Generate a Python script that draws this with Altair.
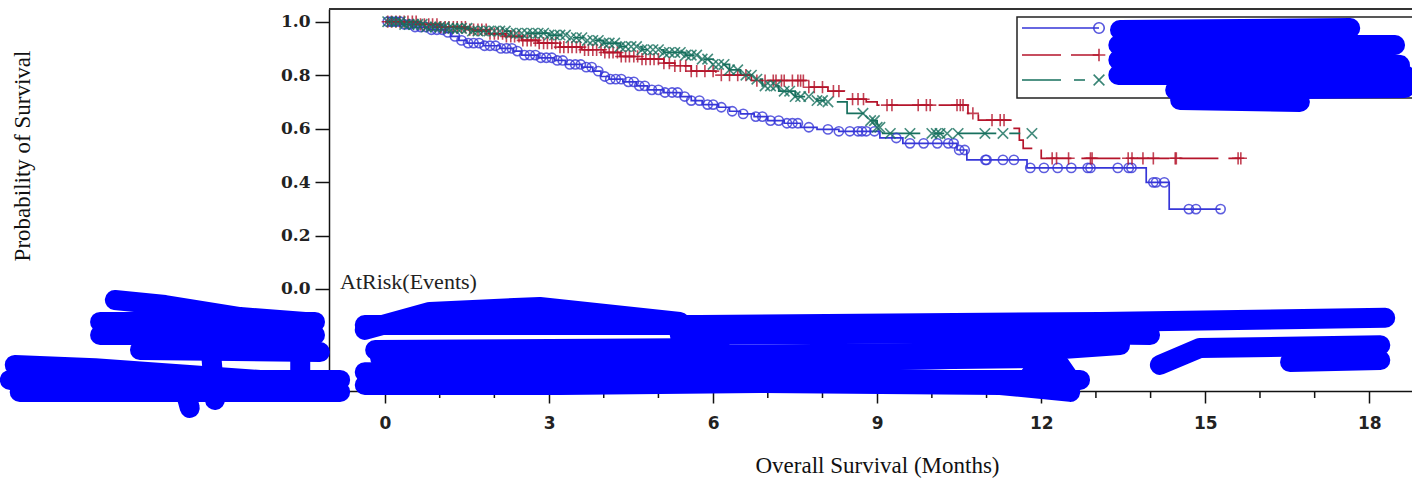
import altair as alt
import pandas as pd

# ---------------- data ----------------
GROUPS = ["Arm 1", "Arm 2", "Arm 3"]          # legend labels are hidden in the original
COLORS = ["#3636d8", "#b5142b", "#17705e"]

# Kaplan-Meier step points (time in months, survival after the step)
BLUE_T = [0, 0.3, 0.5, 0.8, 1.1, 1.2, 1.35, 1.5, 1.8, 2.1, 2.35, 2.5, 2.8, 3.1, 3.3,
          3.6, 3.8, 3.95, 4.1, 4.35, 4.6, 4.8, 5.1, 5.4, 5.6, 5.8, 6.1, 6.3, 6.5, 6.75,
          7.0, 7.3, 7.6, 7.9, 8.3, 9.05, 9.47, 10.46, 10.64, 11.74, 13.92, 14.34]
BLUE_S = [1.0, 0.99, 0.98, 0.97, 0.96, 0.945, 0.93, 0.92, 0.91, 0.9, 0.89, 0.875, 0.865, 0.855, 0.84,
          0.83, 0.815, 0.795, 0.785, 0.775, 0.76, 0.745, 0.735, 0.72, 0.705, 0.69, 0.68, 0.665, 0.655, 0.645,
          0.63, 0.62, 0.605, 0.597, 0.59, 0.565, 0.545, 0.52, 0.483, 0.453, 0.399, 0.299]
BLUE_END = 15.28
BLUE_CENSOR = [0.05, 0.12, 0.2, 0.28, 0.36, 0.45, 0.55, 0.65, 0.75, 0.85, 0.95, 1.05, 1.15, 1.28, 1.4,
               1.52, 1.62, 1.72, 1.82, 1.92, 2.02, 2.12, 2.22, 2.32, 2.42, 2.55, 2.65, 2.75, 2.85, 2.95,
               3.05, 3.15, 3.25, 3.38, 3.48, 3.58, 3.68, 3.78, 3.9, 4.02, 4.12, 4.22, 4.32, 4.45, 4.55,
               4.65, 4.75, 4.88, 5.0, 5.12, 5.25, 5.35, 5.48, 5.6, 5.75, 5.9, 6.0, 6.15, 6.35, 6.55,
               6.78, 6.9, 7.05, 7.2, 7.35, 7.45, 7.55, 7.75, 8.1, 8.3, 8.5, 8.65, 8.72, 8.8, 8.95,
               9.35, 9.6, 9.85, 10.1, 10.3, 10.4, 10.5, 10.6, 10.98, 11.0, 11.3, 11.5, 11.8, 12.05, 12.3,
               12.55, 12.85, 12.9, 13.4, 13.6, 13.65, 14.05, 14.1, 14.25, 14.7, 14.83, 15.28]

RED_T = [0, 0.6, 1.0, 1.5, 1.9, 2.2, 2.5, 2.8, 3.2, 3.6, 4.0, 4.3, 4.7, 5.1, 5.3, 5.6, 6.05, 6.7,
         7.7, 8.1, 8.4, 8.8, 9.0, 10.66, 10.85, 11.47, 11.6, 11.67, 12.0]
RED_S = [1.0, 0.99, 0.98, 0.97, 0.955, 0.945, 0.93, 0.92, 0.905, 0.895, 0.885, 0.87, 0.86, 0.845, 0.835,
         0.815, 0.80, 0.78, 0.755, 0.74, 0.71, 0.70, 0.688, 0.657, 0.632, 0.601, 0.557, 0.526, 0.489]
RED_END = 15.65
RED_CENSOR = [0.05, 0.12, 0.2, 0.27, 0.35, 0.42, 0.5, 0.57, 0.65, 0.72, 0.8, 0.87, 0.95, 1.02, 1.1,
              1.17, 1.25, 1.32, 1.4, 1.47, 1.55, 1.62, 1.7, 1.77, 1.85, 1.92, 2.0, 2.07, 2.15, 2.22,
              2.3, 2.37, 2.45, 2.52, 2.6, 2.67, 2.75, 2.82, 2.9, 2.97, 3.05, 3.12, 3.2, 3.27, 3.35,
              3.42, 3.5, 3.57, 3.65, 3.72, 3.8, 3.87, 3.95, 4.02, 4.1, 4.17, 4.25, 4.32, 4.4, 4.47,
              4.55, 4.62, 4.7, 4.77, 4.85, 4.92, 5.0, 5.1, 5.2, 5.3, 5.4, 5.5, 5.6, 5.7, 5.85,
              6.0, 6.15, 6.3, 6.45, 6.6, 6.8, 6.95, 7.1, 7.15, 7.25, 7.3, 7.45, 7.55, 7.6, 7.65,
              7.75, 7.85, 8.0, 8.2, 8.3, 8.55, 8.65, 8.75, 9.18, 9.27, 9.75, 9.9, 9.97, 10.46, 10.52,
              10.57, 10.75, 11.1, 11.25, 11.32, 12.2, 12.28, 12.5, 12.9, 12.93, 13.59, 13.66, 13.86,
              14.05, 14.45, 14.47, 15.6, 15.65]

GREEN_T = [0, 0.3, 0.7, 1.1, 1.6, 2.3, 3.0, 3.4, 3.7, 4.0, 4.3, 4.7, 5.1, 5.5, 5.8, 6.0, 6.3, 6.5,
           6.75, 6.9, 7.2, 7.5, 7.9, 8.1, 8.45, 8.85, 9.0, 9.1]
GREEN_S = [1.0, 0.99, 0.98, 0.975, 0.965, 0.957, 0.95, 0.94, 0.93, 0.92, 0.907, 0.895, 0.885, 0.875,
           0.86, 0.84, 0.82, 0.80, 0.785, 0.76, 0.74, 0.72, 0.705, 0.70, 0.657, 0.63, 0.605, 0.582]
GREEN_END = 11.83
GREEN_CENSOR = [0.05, 0.12, 0.2, 0.28, 0.36, 0.44, 0.52, 0.6, 0.68, 0.76, 0.84, 0.92, 1.0, 1.08, 1.16,
                1.24, 1.32, 1.4, 1.5, 1.6, 1.7, 1.8, 1.9, 2.0, 2.1, 2.2, 2.3, 2.4, 2.5, 2.6,
                2.7, 2.8, 2.9, 3.0, 3.1, 3.2, 3.3, 3.4, 3.5, 3.6, 3.7, 3.8, 3.9, 4.0, 4.1,
                4.2, 4.3, 4.4, 4.5, 4.6, 4.7, 4.8, 4.9, 5.0, 5.1, 5.2, 5.3, 5.4, 5.5, 5.6,
                5.7, 5.8, 5.9, 6.0, 6.1, 6.2, 6.3, 6.45, 6.6, 6.7, 6.8, 6.95, 7.05, 7.15, 7.3,
                7.4, 7.5, 7.6, 7.75, 7.9, 8.0, 8.1, 8.74, 8.88, 8.95, 9.0, 9.05, 9.24, 9.6, 10.0,
                10.08, 10.15, 10.28, 10.48, 10.97, 11.3, 11.83]

X_MAJOR = [0, 3, 6, 9, 12, 15, 18]
X_MINOR = [1, 2, 4, 5, 7, 8, 10, 11, 13, 14, 16, 17]
Y_TICKS = [0.0, 0.2, 0.4, 0.6, 0.8, 1.0]

# redaction scribbles of the original (months, probability) per stroke
SCRIBBLES = [
    [(13.44, 0.969), (17.65, 0.976)],
    [(13.41, 0.913), (18.47, 0.913)],
    [(13.41, 0.857), (17.28, 0.864), (18.56, 0.838)],
    [(13.41, 0.801), (18.65, 0.801)],
    [(14.45, 0.744), (18.65, 0.752)],
    [(14.54, 0.707), (16.73, 0.70)],
    [(-0.37, -0.135), (5.76, -0.135), (13.08, -0.123), (18.29, -0.108)],
    [(-0.37, -0.153), (0.82, -0.086), (2.83, -0.067), (5.39, -0.123)],
    [(5.39, -0.172), (11.25, -0.165), (13.99, -0.172)],
    [(-0.18, -0.228), (6.13, -0.221)],
    [(-0.09, -0.258), (5.76, -0.247), (11.61, -0.236), (13.44, -0.210)],
    [(5.76, -0.273), (12.16, -0.258)],
    [(14.17, -0.284), (14.90, -0.221), (18.20, -0.210)],
    [(16.55, -0.273), (18.20, -0.266)],
    [(-0.37, -0.311), (5.76, -0.322), (10.33, -0.340), (12.71, -0.340)],
    [(-0.37, -0.359), (3.20, -0.359), (6.86, -0.352), (11.25, -0.359), (12.53, -0.385)],
    [(11.80, -0.322), (12.34, -0.284), (12.53, -0.340)],
    [(-4.94, -0.041), (-4.02, -0.060), (-2.65, -0.105), (-1.46, -0.123)],
    [(-5.21, -0.123), (-1.28, -0.123)],
    [(-5.21, -0.172), (-1.28, -0.172)],
    [(-4.48, -0.228), (-1.19, -0.236)],
    [(-6.77, -0.284), (-5.30, -0.296), (-1.01, -0.359)],
    [(-6.86, -0.340), (-0.82, -0.340)],
    [(-6.68, -0.385), (-0.82, -0.385)],
    [(-3.20, -0.191), (-3.11, -0.415)],
    [(-1.55, -0.228), (-1.55, -0.378)],
    [(-3.66, -0.378), (-3.57, -0.445)],
]

# ---------------- tables ----------------
series = [
    (GROUPS[0], BLUE_T, BLUE_S, BLUE_END, BLUE_CENSOR),
    (GROUPS[1], RED_T, RED_S, RED_END, RED_CENSOR),
    (GROUPS[2], GREEN_T, GREEN_S, GREEN_END, GREEN_CENSOR),
]
curve_rows, cens_rows = [], []
for name, ts, ss, end, cens in series:
    for t, s in zip(ts, ss):
        curve_rows.append({"group": name, "t": t, "s": s})
    curve_rows.append({"group": name, "t": end, "s": ss[-1]})
    for c in cens:
        val = ss[0]
        for t, s in zip(ts, ss):
            if t <= c:
                val = s
        cens_rows.append({"group": name, "t": c, "s": val})
curve_df = pd.DataFrame(curve_rows)
cens_df = pd.DataFrame(cens_rows)

scr_rows = []
for i, stroke in enumerate(SCRIBBLES):
    for k, (m, p) in enumerate(stroke):
        scr_rows.append({"sid": i, "k": k, "t": m, "s": p})
scr_df = pd.DataFrame(scr_rows)
minor_df = pd.DataFrame({"t": X_MINOR})
one = pd.DataFrame({"k": [0]})

# ---------------- layout ----------------
W, H = 1083, 382
PLUS = "M-1,0L1,0M0,-1L0,1"
CROSS = "M-0.8,-0.8L0.8,0.8M-0.8,0.8L0.8,-0.8"
SHAPES = ["circle", PLUS, CROSS]
SIZES = [85, 150, 170]
DASHES = [[1, 0], [39, 10], [39, 13, 11, 13]]

x_scale = alt.Scale(domain=[-1.024, 18.78], nice=False, zero=False)
y_scale = alt.Scale(domain=[-0.3816, 1.0475], nice=False, zero=False)
x_axis = alt.Axis(values=X_MAJOR, format="d", title="Overall Survival (Months)",
                  titleFont="Liberation Serif", titleFontSize=23, titleFontWeight="normal",
                  titleColor="#111", titleX=548, titleY=81, titleAlign="center",
                  titleBaseline="alphabetic", labelFont="DejaVu Sans", labelFontSize=17,
                  labelFontWeight="bold", labelColor="#222", labelPadding=12, tickSize=12,
                  tickWidth=1.5, tickColor="#111", domainColor="#111", domainWidth=1.5,
                  grid=False)
y_axis = alt.Axis(values=Y_TICKS, format=".1f", title="Probability of Survival",
                  titleFont="Liberation Serif", titleFontSize=23, titleFontWeight="normal",
                  titleColor="#111", titleAngle=270, titleX=-307, titleY=146.5,
                  titleAlign="center", titleBaseline="middle", labelFont="DejaVu Serif",
                  labelFontSize=17, labelFontWeight="bold", labelColor="#222", labelPadding=5,
                  tickSize=14, tickWidth=1.5, tickColor="#111", domainColor="#111",
                  domainWidth=1.5, grid=False)
X = alt.X("t:Q", scale=x_scale, axis=x_axis)
Y = alt.Y("s:Q", scale=y_scale, axis=y_axis)
color = alt.Color("group:N", scale=alt.Scale(domain=GROUPS, range=COLORS), legend=None)

curves = alt.Chart(curve_df).mark_line(interpolate="step-after", strokeWidth=1.7).encode(
    x=X, y=Y, color=color,
    strokeDash=alt.StrokeDash("group:N", scale=alt.Scale(domain=GROUPS, range=DASHES), legend=None),
)
mark_layers = []
for i, g in enumerate(GROUPS):
    mark_layers.append(
        alt.Chart(cens_df).transform_filter(alt.datum.group == g).mark_point(
            filled=False, strokeWidth=1.6, opacity=0.8, size=SIZES[i], shape=SHAPES[i],
            color=COLORS[i]).encode(x=X, y=Y)
    )
minor = alt.Chart(minor_df).mark_rule(color="#111", strokeWidth=1.5).encode(
    x=X, y=alt.value(H), y2=alt.value(H + 7))
top_line = alt.Chart(one).mark_rule(color="#333", strokeWidth=2).encode(
    x=alt.value(0), x2=alt.value(W), y=alt.value(0))
at_risk = alt.Chart(one).mark_text(align="left", baseline="middle", font="Liberation Serif",
                                   fontSize=22, color="#222").encode(
    x=alt.value(11), y=alt.value(273), text=alt.value("AtRisk(Events)"))

# legend (drawn by hand to show line + symbol)
leg_box = alt.Chart(one).mark_rect(fill="white", stroke="#222", strokeWidth=1.5).encode(
    x=alt.value(688), x2=alt.value(1100), y=alt.value(8), y2=alt.value(89))
leg_layers = []
for i, ly in enumerate([19, 46, 71]):
    leg_layers.append(alt.Chart(one).mark_rule(color=COLORS[i], strokeWidth=1.6,
                                               strokeDash=DASHES[i]).encode(
        x=alt.value(693), x2=alt.value(770), y=alt.value(ly)))
    leg_layers.append(alt.Chart(one).mark_point(filled=False, strokeWidth=1.6,
                                                size=[110, 160, 180][i], shape=SHAPES[i],
                                                color=COLORS[i], opacity=0.85).encode(
        x=alt.value(770), y=alt.value(ly)))

scribbles = alt.Chart(scr_df).mark_line(color="#0000ff", strokeWidth=20, strokeCap="round",
                                        strokeJoin="round").encode(
    x=X, y=Y, detail="sid:N", order="k:Q")

chart = alt.layer(
    top_line, minor, leg_box, *leg_layers, curves, *mark_layers, at_risk, scribbles
).properties(
    width=W, height=H,
    autosize=alt.AutoSizeParams(type="none"),
    padding={"left": 329, "top": 9, "right": 0, "bottom": 88},
).configure_view(stroke=None)

chart.save("out.html", embed_options={"renderer": "svg", "actions": False})
